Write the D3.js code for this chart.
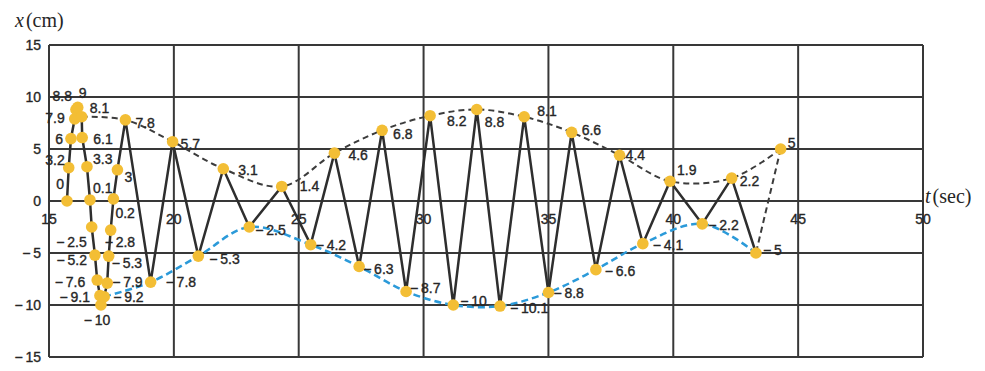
<!DOCTYPE html>
<html>
<head>
<meta charset="utf-8">
<script src="https://cdn.jsdelivr.net/npm/d3@7"></script>
<style>
  html, body { margin: 0; padding: 0; background: #fff; }
  svg { display: block; }
  .lbl, .tick { font-family: "Liberation Sans", Arial, sans-serif; font-size: 14px; fill: #262626; stroke: #262626; stroke-width: 0.35px; }
  .title { font-family: "Liberation Serif", "DejaVu Serif", serif; font-size: 20px; fill: #262626; }
</style>
</head>
<body>
<svg id="chart" width="985" height="371"></svg>
<script>
// Sampled displacement of the oscillator: time (s) and position (cm)
const times = [
  15.72, 15.79, 15.88, 16.03, 16.08, 16.15, 16.31, 16.33, 16.52, 16.64,
  16.71, 16.84, 16.93, 17.04, 17.08, 17.21, 17.33, 17.39, 17.47, 17.58,
  17.74, 18.06, 19.07, 19.95, 20.98, 21.98, 23.02, 24.32, 25.48, 26.43,
  27.42, 28.34, 29.30, 30.26, 31.19, 32.13, 33.06, 34.03, 35.00, 35.93,
  36.90, 37.85, 38.78, 39.87, 41.16, 42.34, 43.31, 44.30
];
const positions = [
  0, 3.2, 6, 7.9, 8.8, 9, 8.1, 6.1, 3.3, 0.1,
  -2.5, -5.2, -7.6, -9.1, -10, -9.2, -7.9, -5.3, -2.8, 0.2,
  3, 7.8, -7.8, 5.7, -5.3, 3.1, -2.5, 1.4, -4.2, 4.6,
  -6.3, 6.8, -8.7, 8.2, -10, 8.8, -10.1, 8.1, -8.8, 6.6,
  -6.6, 4.4, -4.1, 1.9, -2.2, 2.2, -5, 5
];
// Which samples make up the oscillation trace and the two envelopes
const traceIdx = d3.range(0, 47);
const upperIdx = [6, 21, 23, 25, 27, 29, 31, 33, 35, 37, 39, 41, 43, 45, 47];
const closeIdx = [47, 46];
const lowerIdx = [15, 22, 24, 26, 28, 30, 32, 34, 36, 38, 40, 42, 44, 46];

// Axis ticks
const xTicks = [15, 20, 25, 30, 35, 40, 45, 50];
const yTicks = [15, 10, 5, 0, -5, -10, -15];

// Value-label placement: [dx, dy, anchor] relative to each point
const labelPlace = [
  [-3, -12, "end"], [-4, -3, "end"], [-8, 5, "end"], [-10, 4, "end"], [-4, -8, "end"],
  [1, -9, "start"], [8, -4, "start"], [11, 6, "start"], [6, -3, "start"], [3, -7, "start"],
  [-5, 20, "end"], [-8, 10, "end"], [-12, 7, "end"], [-10, 6, "end"], [-4, 20, "middle"],
  [9, 5, "start"], [5, 4, "start"], [3, 12, "start"], [-6, 17, "start"], [2, 19, "start"],
  [7, 12, "start"], [10, 8, "start"], [15, 5, "start"], [8, 7, "start"], [11, 8, "start"],
  [15, 6, "start"], [6, 8, "start"], [18, 5, "start"], [5, 5, "start"], [14, 7, "start"],
  [4, 7, "start"], [11, 9, "start"], [4, 2, "start"], [17, 10, "start"], [7, 1, "start"],
  [8, 18, "start"], [10, 7, "start"], [13, -1, "start"], [5, 5, "start"], [10, 3, "start"],
  [9, 6, "start"], [6, 5, "start"], [10, 6, "start"], [7, -6, "start"], [6, 6, "start"],
  [8, 8, "start"], [7, 2, "start"], [7, -1, "start"]
];

const svg = d3.select("#chart");
const plotL = 49, plotR = 923, plotT = 45, plotB = 357;
const x = d3.scaleLinear().domain([15, 50]).range([plotL, plotR]);
const y = d3.scaleLinear().domain([-15, 15]).range([plotB, plotT]);

const fmt = v => v < 0 ? "\u2212\u2009" + Math.abs(v) : String(v);

// grid
const grid = svg.append("g").attr("stroke", "#383838").attr("stroke-width", 2);
grid.selectAll("line.v").data(xTicks).join("line").attr("class", "v")
  .attr("x1", d => x(d)).attr("x2", d => x(d)).attr("y1", plotT).attr("y2", plotB);
grid.selectAll("line.h").data(yTicks).join("line").attr("class", "h")
  .attr("x1", plotL).attr("x2", plotR).attr("y1", d => y(d)).attr("y2", d => y(d));

// tick labels
svg.append("g").selectAll("text").data(yTicks).join("text")
  .attr("class", "tick").attr("text-anchor", "end")
  .attr("x", plotL - 8).attr("y", d => y(d) + 5).text(d => fmt(d));
svg.append("g").selectAll("text").data(xTicks).join("text")
  .attr("class", "tick").attr("text-anchor", "middle")
  .attr("x", d => x(d)).attr("y", y(0) + 23).text(d => d);

// axis titles
const yt = svg.append("text").attr("class", "title").attr("x", 15).attr("y", 27);
yt.append("tspan").attr("font-style", "italic").text("x");
yt.append("tspan").attr("dx", 2).text("(cm)");
const xt = svg.append("text").attr("class", "title").attr("x", 925).attr("y", 203);
xt.append("tspan").attr("font-style", "italic").text("t");
xt.append("tspan").attr("dx", 2).text("(sec)");

const pt = i => [x(times[i]), y(positions[i])];

// envelopes
svg.append("path")
  .attr("d", d3.line().curve(d3.curveCatmullRom.alpha(0.5))(upperIdx.map(pt)))
  .attr("fill", "none").attr("stroke", "#3c3c3c").attr("stroke-width", 2)
  .attr("stroke-dasharray", "6,4");
svg.append("path")
  .attr("d", d3.line()(closeIdx.map(pt)))
  .attr("fill", "none").attr("stroke", "#3c3c3c").attr("stroke-width", 2)
  .attr("stroke-dasharray", "6,4");
svg.append("path")
  .attr("d", d3.line().curve(d3.curveCatmullRom.alpha(0.5))(lowerIdx.map(pt)))
  .attr("fill", "none").attr("stroke", "#2b9ad9").attr("stroke-width", 2.5)
  .attr("stroke-dasharray", "7,4");

// oscillation trace
svg.append("path")
  .attr("d", d3.line()(traceIdx.map(pt)))
  .attr("fill", "none").attr("stroke", "#2e2e2e").attr("stroke-width", 2.5)
  .attr("stroke-linejoin", "round");

// sample points
svg.append("g").selectAll("circle").data(d3.range(times.length)).join("circle")
  .attr("cx", i => x(times[i])).attr("cy", i => y(positions[i])).attr("r", 5.8)
  .attr("fill", "#f3be35");

// value labels
svg.append("g").selectAll("text").data(d3.range(times.length)).join("text")
  .attr("class", "lbl")
  .attr("x", i => x(times[i]) + labelPlace[i][0])
  .attr("y", i => y(positions[i]) + labelPlace[i][1])
  .attr("text-anchor", i => labelPlace[i][2])
  .text(i => fmt(positions[i]));
</script>
</body>
</html>
